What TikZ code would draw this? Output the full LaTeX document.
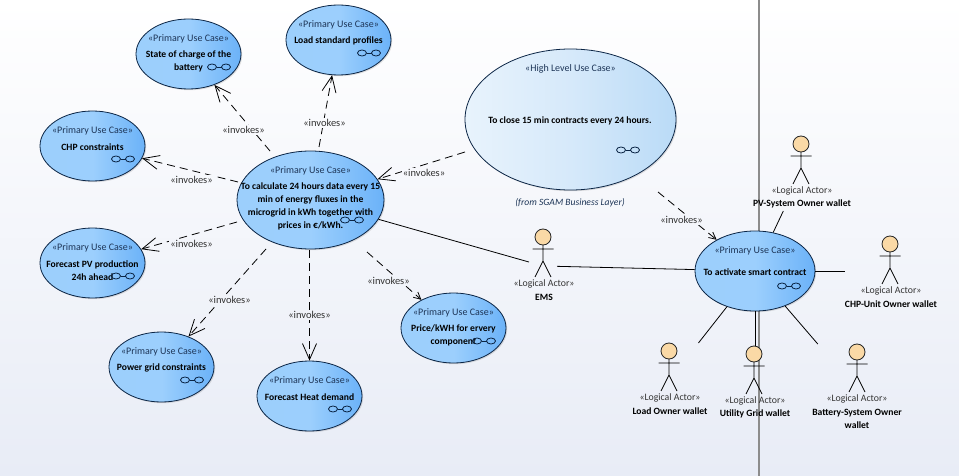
\documentclass[tikz,border=0pt]{standalone}
\usepackage{fontspec}
\setmainfont{Carlito}
\usetikzlibrary{shapes.geometric,arrows.meta,shadows}
\definecolor{bgend}{HTML}{E8ECF6}
\definecolor{ucline}{HTML}{0B2545}
\definecolor{stereo}{HTML}{1D3557}
\definecolor{lab}{HTML}{333333}
\definecolor{ucleft}{HTML}{9CCFFC}
\definecolor{ucmid}{HTML}{9CCFFD}
\definecolor{ucright}{HTML}{6BB2F8}
\definecolor{hlleft}{HTML}{E8F3FC}
\definecolor{hlmid}{HTML}{D6E9FA}
\definecolor{hlright}{HTML}{BADBF7}
\definecolor{headfill}{HTML}{FAD9A6}
\tikzset{
  primary/.style={ellipse,draw=ucline,line width=.8pt,inner sep=0pt,
    left color=ucleft,right color=ucright,middle color=ucmid,minimum width=105pt,minimum height=70pt,
    drop shadow={shadow xshift=1.2pt,shadow yshift=-1.2pt,opacity=.2,fill=black!60}},
  highlevel/.style={primary,left color=hlleft,right color=hlright,middle color=hlmid},
  st/.style={font=\fontsize{10}{12}\selectfont,text=stereo,inner sep=0pt,yshift=-1pt},
  nm/.style={font=\fontsize{9.6}{13}\selectfont\bfseries,text=black,inner sep=0pt,align=center,yshift=-1pt},
  actst/.style={font=\fontsize{9.8}{12}\selectfont,text=lab,inner sep=0pt,yshift=-1pt},
  inv/.style={font=\fontsize{10.5}{12}\selectfont,text=lab,inner sep=1pt,fill=bgend!#1!white},
  dep/.style={draw=black,line width=.8pt,dash pattern=on 8pt off 5pt,-{Straight Barb[length=16pt,width=14pt]}},
  depsmall/.style={dep,-{Straight Barb[length=7pt,width=7pt]}},
  assoc/.style={draw=black,line width=.8pt},
  actorbox/.style={minimum height=75pt,inner sep=0pt,outer sep=0pt},
  actorfig/.pic={
    \draw[line width=.8pt] (-10.5,12)--(10.5,12) (0,8)--(0,24) (-8,40)--(0,24)--(8,40);
    \draw[line width=.8pt,draw=black!85,fill=headfill] (0,0) circle (8);
  },
  glasses/.pic={
    \draw[draw=ucline,line width=.8pt] (-2.5,0)--(2.5,0);
    \draw[draw=ucline,line width=.8pt] (-7,0) ellipse (4.5 and 3) (7,0) ellipse (4.5 and 3);
  }
}
\begin{document}
\begin{tikzpicture}[x=1pt,y=-1pt]
\useasboundingbox (0,0) rectangle (959,476);
\fill[top color=white,bottom color=bgend] (0,0) rectangle (959,476);
\draw[draw=black!45,line width=2pt] (759,0) -- (759,476);

% use cases
\node[primary] (state) at (188.5,54) {};
\node[primary] (load) at (338.5,40) {};
\node[primary] (chp) at (92.5,146) {};
\node[primary] (pv) at (92.5,263) {};
\node[primary,minimum width=147pt,minimum height=98pt] (main) at (310.5,200) {};
\node[primary] (grid) at (161.5,367) {};
\node[primary] (heat) at (309.5,396) {};
\node[primary] (price) at (453.5,328) {};
\node[highlevel,minimum width=211pt,minimum height=141pt] (high) at (570.5,119.5) {};
\node[primary,minimum width=120pt,minimum height=80pt] (smart) at (755,271) {};

% use case texts
\node[st] (tstate) at (188.5,38) {«Primary Use Case»};
\node[nm] (nstate) at (188.5,60.5) {State of charge of the\\battery};
\node[st] (tload) at (338.5,24) {«Primary Use Case»};
\node[nm] (nload) at (338.5,40) {Load standard profiles};
\node[st] (tchp) at (92.5,130) {«Primary Use Case»};
\node[nm] (nchp) at (92.5,146) {CHP constraints};
\node[st] (tpv) at (92.5,247) {«Primary Use Case»};
\node[nm] (npv) at (92.5,269.5) {Forecast PV production\\24h ahead};
\node[st] (tmain) at (310.5,170) {«Primary Use Case»};
\node[nm] (nmain) at (310.5,205.5) {To calculate 24 hours data every 15\\min of energy fluxes in the\\microgrid in kWh together with\\prices in €/kWh.};
\node[st] (tgrid) at (161.5,351) {«Primary Use Case»};
\node[nm] (ngrid) at (161.5,367) {Power grid constraints};
\node[st] (theat) at (309.5,380) {«Primary Use Case»};
\node[nm] (nheat) at (309.5,396) {Forecast Heat demand};
\node[st] (tprice) at (453.5,312) {«Primary Use Case»};
\node[nm] (nprice) at (453.5,334.5) {Price/kWH for ervery\\component};
\node[st] (thigh) at (570.5,68) {«High Level Use Case»};
\node[nm] (nhigh) at (570,120) {To close 15 min contracts every 24 hours.};
\node[st,font=\fontsize{9.6}{12}\selectfont\itshape] (from) at (570,201.5) {(from SGAM Business Layer)};
\node[st] (tsmart) at (755,250) {«Primary Use Case»};
\node[nm] (nsmart) at (755,271) {To activate smart contract};

% glasses icons
\pic at (219,67) {glasses};
\pic at (369,53) {glasses};
\pic at (123,159) {glasses};
\pic at (123,276) {glasses};
\pic at (352,220) {glasses};
\pic at (192,380) {glasses};
\pic at (340,409) {glasses};
\pic at (484,341) {glasses};
\pic at (628,150) {glasses};
\pic at (789,286) {glasses};

% actors
\node[actorbox,minimum width=28pt] (ems) at (543,266) {};
\node[actorbox,minimum width=100pt] (apv) at (801,173.5) {};
\node[actorbox,minimum width=60pt] (achp) at (875,271) {};
\node[actorbox,minimum width=76pt] (aload) at (669,380.5) {};
\node[actorbox,minimum width=70pt] (autil) at (755,383.5) {};
\node[actorbox,minimum width=94pt] (abatt) at (850,381.5) {};
\pic at (543,237) {actorfig};
\pic at (801,144) {actorfig};
\pic at (890,244) {actorfig};
\pic at (669,351) {actorfig};
\pic at (754,354) {actorfig};
\pic at (857,352) {actorfig};
\node[actst] (sems) at (544,283) {«Logical Actor»};
\node[nm] (lems) at (544,296) {EMS};
\node[actst] (spv) at (802,190) {«Logical Actor»};
\node[nm] (lpv) at (802,203) {PV-System Owner wallet};
\node[actst] (schp) at (891,290) {«Logical Actor»};
\node[nm] (lchp) at (891,303) {CHP-Unit Owner wallet};
\node[actst] (sload) at (670,397) {«Logical Actor»};
\node[nm] (lload) at (670,410) {Load Owner wallet};
\node[actst] (sutil) at (755,400) {«Logical Actor»};
\node[nm] (lutil) at (755,413) {Utility Grid wallet};
\node[actst] (sbatt) at (857,398) {«Logical Actor»};
\node[nm] (lbatt) at (857,417.5) {Battery-System Owner\\wallet};

% free tails of the dependencies
\coordinate (c1) at (270,151);
\coordinate (c2) at (319,147);
\coordinate (c3) at (238,182);
\coordinate (c4) at (237,222);
\coordinate (c5) at (266,249);
\coordinate (c6) at (309.5,250);
\coordinate (c7) at (367,252);
\coordinate (c8) at (465,152);
\coordinate (c9) at (658,192);

\draw[dep] (c1) -- (state);
\draw[dep] (c2) -- (load);
\draw[dep] (c3) -- (chp);
\draw[dep] (c4) -- (pv);
\draw[dep] (c5) -- (grid);
\draw[dep] (c6) -- (heat);
\draw[depsmall] (c7) -- (price);
\draw[dep] (c8) -- (main);
\draw[depsmall] (c9) -- (smart);

% associations
\draw[assoc] (main) -- (ems);
\draw[assoc] (ems) -- (smart);
\draw[assoc] (smart) -- (apv);
\draw[assoc] (smart) -- (achp);
\draw[assoc] (smart) -- (aload);
\draw[assoc] (smart) -- (autil);
\draw[assoc] (smart) -- (abatt);

% dependency labels
\node[inv=27] (i1) at (243.5,130) {«invokes»};
\node[inv=26] (i2) at (324.5,123) {«invokes»};
\node[inv=38] (i3) at (191.5,180) {«invokes»};
\node[inv=51] (i4) at (191.5,244) {«invokes»};
\node[inv=63] (i5) at (229.5,299.5) {«invokes»};
\node[inv=66] (i6) at (309.5,315) {«invokes»};
\node[inv=59] (i7) at (388.5,281) {«invokes»};
\node[inv=36] (i8) at (424,173) {«invokes»};
\node[inv=46] (i9) at (681.5,220) {«invokes»};
\end{tikzpicture}
\end{document}
